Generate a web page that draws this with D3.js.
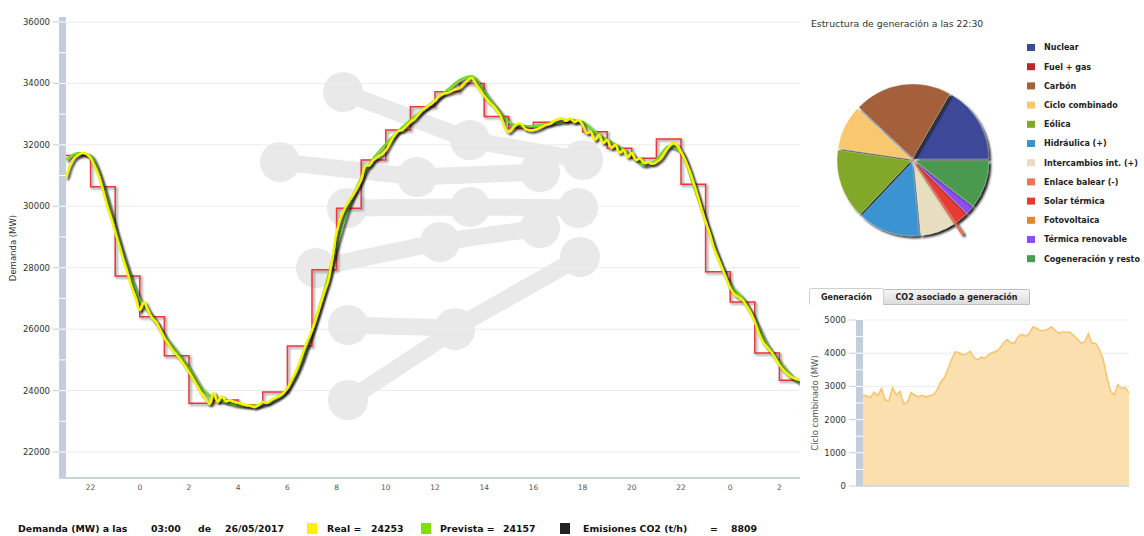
<!DOCTYPE html>
<html>
<head>
<meta charset="utf-8">
<script src="https://cdn.jsdelivr.net/npm/d3@7"></script>
<style>
html,body{margin:0;padding:0;background:#fff;}
svg{display:block;font-family:"DejaVu Sans",Verdana,sans-serif;}
</style>
</head>
<body>
<svg id="chart" width="1144" height="536"></svg>
<script>
// ---------- data ----------
// demand axis ticks (MW) and hour labels
const demandTicks = [22000, 24000, 26000, 28000, 30000, 32000, 34000, 36000];
const hourTicks = [22, 24, 26, 28, 30, 32, 34, 36, 38, 40, 42, 44, 46, 48, 50]; // hours since 00:00 of 24/05
const hourLabels = ["22", "0", "2", "4", "6", "8", "10", "12", "14", "16", "18", "20", "22", "0", "2"];

// real demand, every 10 minutes from 21:00 (24/05) to 03:00 (26/05)
const realDemand = [
  30920,31340,31570,31670,31740,31700,
  31570,31310,30990,30530,30040,29620,
  29160,28710,28250,27830,27370,27010,
  26620,26880,26620,26360,26230,25970,
  25710,25520,25320,25160,25000,24800,
  24600,24380,24150,23920,23760,23560,
  23920,23630,23820,23660,23690,23630,
  23600,23560,23530,23500,23460,23530,
  23630,23600,23690,23760,23820,23920,
  24080,24340,24600,24930,25320,25650,
  25970,26360,26790,27210,27600,28350,
  29160,29650,29940,30170,30370,30600,
  30860,31310,31340,31510,31600,31700,
  31830,32060,32290,32450,32480,32610,
  32740,32840,33000,33140,33230,33330,
  33430,33590,33660,33690,33750,33820,
  33850,33980,34110,34180,33980,33790,
  33590,33430,33300,33140,32940,32580,
  32420,32550,32680,32680,32520,32480,
  32480,32520,32580,32650,32680,32780,
  32840,32870,32780,32870,32740,32810,
  32650,32390,32420,32160,32320,32060,
  32160,31900,32000,31740,31830,31600,
  31740,31510,31570,31410,31440,31380,
  31440,31540,31740,31930,32060,32000,
  31770,31510,31180,30790,30370,29910,
  29490,29100,28640,28320,27990,27660,
  27340,27140,27050,26950,26750,26530,
  26230,25870,25580,25420,25260,25060,
  24830,24670,24540,24440,24380,24340,
  24253
];

// forecast demand, every 30 minutes over the same span
const forecastDemand = [
  31510,31740, 31640,30690, 29290,27990, 26950,26430, 25780,25260,
  24730,24080, 23760,23630, 23530,23500, 23560,23720, 24080,24830,
  25970,27270, 28740,30040, 30920,31570, 32030,32450, 32810,33140,
  33460,33790, 34110,34240, 33720,33200, 32740,32610, 32610,32680,
  32740,32810, 32740,32420, 32160,31930, 31670,31340, 31510,31960,
  31770,30690, 29490,28350, 27440,27010, 26300,25480, 24930,24470,
  24157
];

// scheduled demand, hourly blocks starting 21:00 (24/05)
const scheduledDemand = [
  31650,30640,27730,26400,25130,23590,23690,23530,23950,25450,
  27930,29940,31510,32480,33240,33730,34000,32920,32550,32740,
  32740,32430,31890,31560,32190,30720,27870,26880,25220,24340
];

// generation mix at 22:30 (MW)
const mixNames = ["Nuclear","Fuel + gas","Carbón","Ciclo combinado","Eólica","Hidráulica (+)",
  "Intercambios int. (+)","Enlace balear (-)","Solar térmica","Fotovoltaica","Térmica renovable","Cogeneración y resto"];
const mixValues = [5000, 0, 6420, 2920, 4580, 4080, 2330, 80, 900, 0, 580, 3170];
const mixColors = ["#3d4a98","#b5292b","#a3603b","#f9c86e","#82a82b","#3a93d1",
  "#e7debf","#ec7550","#e63b30","#e08a2f","#8a4ff0","#4a9a50"];

// combined-cycle generation, every 20 minutes over one day (MW)
const ccgtValues = [
  2740,2710,2670,2830,2720,2940,2590,2570,2960,2740,2850,2480,2520,2820,2740,2680,
  2730,2680,2720,2740,2880,3130,3260,3520,3820,4040,4020,3950,3980,4060,3880,3800,
  3880,3850,3960,4020,4050,4150,4310,4410,4320,4300,4500,4570,4510,4600,4790,4750,
  4680,4680,4720,4800,4690,4600,4640,4630,4630,4540,4430,4300,4340,4590,4300,4300,
  4100,3820,3290,2850,2750,3060,2940,2970,2800
];
const ccgtTicks = [0, 1000, 2000, 3000, 4000, 5000];

// status bar readings
const statusTime = "03:00", statusDate = "26/05/2017";
const statusReal = 24253, statusForecast = 24157, statusCO2 = 8809;

// ---------- drawing ----------
const svg = d3.select("#chart");
const defs = svg.append("defs");

function addShadow(id, dx, dy, sd, color, op) {
  const f = defs.append("filter").attr("id", id)
    .attr("filterUnits", "userSpaceOnUse")
    .attr("x", -1200).attr("y", -600).attr("width", 3600).attr("height", 1800);
  f.append("feDropShadow").attr("dx", dx).attr("dy", dy).attr("stdDeviation", sd)
    .attr("flood-color", color).attr("flood-opacity", op);
}
addShadow("shRed", 1.6, 1.6, 0.8, "#555", 0.75);
addShadow("shLine", 2, 2, 1, "#000", 0.85);
addShadow("shPie", 2.2, 2.2, 1.2, "#000", 0.9);

const plot = {left: 66, right: 800, top: 17, bottom: 478};
const x = d3.scaleLinear().domain([21, 51]).range([66, 804]);
const y = d3.scaleLinear().domain([22000, 36000]).range([452, 22]);

defs.append("clipPath").attr("id", "plotClip").append("rect")
  .attr("x", plot.left).attr("y", plot.top - 5)
  .attr("width", plot.right - plot.left).attr("height", plot.bottom - plot.top + 5);

// faint logo in the background of the plot
const logoRods = [
  [[343,92],[470,140],[583,160]],
  [[280,162],[417,177],[540,172]],
  [[347,208],[470,207],[578,208]],
  [[316,268],[440,242],[540,228]],
  [[348,325],[455,328],[580,257]],
  [[348,400],[455,330]]
];
const logo = svg.append("g").attr("fill", "#e9e9e9").attr("stroke", "#e9e9e9");
logoRods.forEach(r => {
  logo.append("path").attr("d", d3.line()(r)).attr("fill", "none")
    .attr("stroke-width", 17).attr("stroke-linecap", "round");
  r.forEach(p => logo.append("circle").attr("cx", p[0]).attr("cy", p[1]).attr("r", 20).attr("stroke", "none"));
});

// horizontal grid
svg.append("g").selectAll("line").data(demandTicks).join("line")
  .attr("x1", plot.left).attr("x2", plot.right)
  .attr("y1", d => y(d)).attr("y2", d => y(d))
  .attr("stroke", "#ebebeb").attr("stroke-width", 1);

// left axis band
svg.append("rect").attr("x", 59).attr("y", plot.top).attr("width", 7)
  .attr("height", plot.bottom - plot.top).attr("fill", "#c3cedc");
svg.append("g").selectAll("line").data(d3.range(22000, 36001, 1000)).join("line")
  .attr("x1", 59).attr("x2", 66).attr("y1", d => y(d)).attr("y2", d => y(d))
  .attr("stroke", "#fff").attr("stroke-width", 1);
svg.append("g").selectAll("line").data(demandTicks).join("line")
  .attr("x1", 53).attr("x2", 59).attr("y1", d => y(d)).attr("y2", d => y(d))
  .attr("stroke", "#c3cedc").attr("stroke-width", 1);
svg.append("g").selectAll("text").data(demandTicks).join("text")
  .attr("x", 50).attr("y", d => y(d)).attr("dy", "0.35em")
  .attr("text-anchor", "end").attr("font-size", 8.5).attr("fill", "#333")
  .text(d => d);
svg.append("text").attr("transform", "translate(16,248) rotate(-90)")
  .attr("text-anchor", "middle").attr("font-size", 8.5).attr("fill", "#333")
  .text("Demanda (MW)");

// bottom axis
svg.append("line").attr("x1", 59).attr("x2", plot.right)
  .attr("y1", plot.bottom).attr("y2", plot.bottom)
  .attr("stroke", "#c8d3df").attr("stroke-width", 2);
svg.append("g").selectAll("text").data(hourTicks).join("text")
  .attr("x", d => x(d)).attr("y", 490)
  .attr("text-anchor", "middle").attr("font-size", 7.5).attr("fill", "#555")
  .text((d, i) => hourLabels[i]);

// demand series
const lines = svg.append("g").attr("clip-path", "url(#plotClip)");
const schedSeries = scheduledDemand.map((v, i) => ({t: 21 + i, v}));
schedSeries.push({t: 21 + scheduledDemand.length, v: scheduledDemand[scheduledDemand.length - 1]});
const forecastSeries = forecastDemand.map((v, i) => ({t: 21 + i / 2, v}));
const realSeries = realDemand.map((v, i) => ({t: 21 + i / 6, v}));

lines.append("path").datum(schedSeries)
  .attr("d", d3.line().x(d => x(d.t)).y(d => y(d.v)).curve(d3.curveStepAfter))
  .attr("fill", "none").attr("stroke", "#e8373a").attr("stroke-width", 1.5)
  .attr("filter", "url(#shRed)");
lines.append("path").datum(forecastSeries)
  .attr("d", d3.line().x(d => x(d.t)).y(d => y(d.v)).curve(d3.curveMonotoneX))
  .attr("fill", "none").attr("stroke", "#6edc1e").attr("stroke-width", 2.2)
  .attr("filter", "url(#shLine)");
lines.append("path").datum(realSeries)
  .attr("d", d3.line().x(d => x(d.t)).y(d => y(d.v)).curve(d3.curveCatmullRom))
  .attr("fill", "none").attr("stroke", "#f7f200").attr("stroke-width", 2.4)
  .attr("filter", "url(#shLine)");

// ---------- generation mix pie ----------
svg.append("text").attr("x", 811).attr("y", 26.5).attr("font-size", 9.3).attr("fill", "#333")
  .text("Estructura de generación a las 22:30");

const pieC = [913, 160], pieR = 74;
const pie = d3.pie().value(d => d).sort(null)
  .startAngle(Math.PI / 2).endAngle(Math.PI / 2 - 2 * Math.PI);
const arcGen = d3.arc().innerRadius(0).outerRadius(pieR);
const arcLong = d3.arc().innerRadius(0).outerRadius(pieR + 15);
const isLink = s => mixNames[s.i].startsWith("Enlace");
const slices = pie(mixValues).map((s, i) => ({...s, i}));
const pieG = svg.append("g").attr("transform", `translate(${pieC[0]},${pieC[1]})`);
pieG.selectAll("path").data(slices.filter(s => s.value > 0)).join("path")
  .attr("d", s => isLink(s) ? arcLong(s) : arcGen(s))
  .attr("transform", s => {
    const mid = (s.startAngle + s.endAngle) / 2;
    const off = isLink(s) ? 0 : 2;
    return `translate(${off * Math.sin(mid)},${-off * Math.cos(mid)})`;
  })
  .attr("fill", s => mixColors[s.i])
  .attr("stroke", s => isLink(s) ? mixColors[s.i] : "rgba(255,255,255,0.5)")
  .attr("stroke-width", s => isLink(s) ? 1.2 : 0.5)
  .attr("filter", "url(#shPie)");

// legend
const leg = svg.append("g");
mixNames.forEach((n, i) => {
  const ly = 47.5 + i * 19.2;
  leg.append("rect").attr("x", 1027).attr("y", ly - 3.5).attr("width", 8).attr("height", 7)
    .attr("fill", mixColors[i]);
  leg.append("text").attr("x", 1044).attr("y", ly).attr("dy", "0.35em")
    .attr("font-size", 8).attr("font-weight", "bold").attr("fill", "#222").text(n);
});

// ---------- combined-cycle panel ----------
const grad = defs.append("linearGradient").attr("id", "tabGrad").attr("x1", 0).attr("y1", 0).attr("x2", 0).attr("y2", 1);
grad.append("stop").attr("offset", 0).attr("stop-color", "#f6f6f6");
grad.append("stop").attr("offset", 1).attr("stop-color", "#dcdcdc");
svg.append("path").attr("d", "M883.5,304.5 V291.5 Q883.5,289.5 885.5,289.5 H1027.5 Q1029.5,289.5 1029.5,291.5 V304.5 Z")
  .attr("fill", "url(#tabGrad)").attr("stroke", "#bdbdbd");
svg.append("path").attr("d", "M809.5,304.5 V290.5 Q809.5,288.5 811.5,288.5 H881.5 Q883.5,288.5 883.5,290.5 V304.5")
  .attr("fill", "#fff").attr("stroke", "#cfcfcf");
svg.append("text").attr("x", 846.5).attr("y", 299.5).attr("text-anchor", "middle")
  .attr("font-size", 8).attr("font-weight", "bold").attr("fill", "#222").text("Generación");
svg.append("text").attr("x", 956.5).attr("y", 299.5).attr("text-anchor", "middle")
  .attr("font-size", 8).attr("font-weight", "bold").attr("fill", "#222").text("CO2 asociado a generación");

const ax = d3.scaleLinear().domain([0, 24]).range([863, 1129]);
const ay = d3.scaleLinear().domain([0, 5000]).range([486, 320]);
const ccgtSeries = ccgtValues.map((v, i) => ({t: i / 3, v}));

svg.append("g").selectAll("line").data(ccgtTicks.slice(1)).join("line")
  .attr("x1", 863).attr("x2", 1129).attr("y1", d => ay(d)).attr("y2", d => ay(d))
  .attr("stroke", "#ececec");
svg.append("path").datum(ccgtSeries)
  .attr("d", d3.area().x(d => ax(d.t)).y0(ay(0)).y1(d => ay(d.v)))
  .attr("fill", "#fbdfae");
svg.append("path").datum(ccgtSeries)
  .attr("d", d3.line().x(d => ax(d.t)).y(d => ay(d.v)))
  .attr("fill", "none").attr("stroke", "#f7c46a").attr("stroke-width", 1.5);
svg.append("rect").attr("x", 856).attr("y", ay(5000)).attr("width", 7)
  .attr("height", ay(0) - ay(5000)).attr("fill", "#c3cedc");
svg.append("g").selectAll("line").data(d3.range(500, 5000, 500)).join("line")
  .attr("x1", 856).attr("x2", 863).attr("y1", d => ay(d)).attr("y2", d => ay(d))
  .attr("stroke", "#fff");
svg.append("line").attr("x1", 856).attr("x2", 1129).attr("y1", ay(0)).attr("y2", ay(0))
  .attr("stroke", "#c8d3df").attr("stroke-width", 1.5);
svg.append("g").selectAll("line").data(ccgtTicks).join("line")
  .attr("x1", 849).attr("x2", 856).attr("y1", d => ay(d)).attr("y2", d => ay(d))
  .attr("stroke", "#c3cedc");
svg.append("g").selectAll("text").data(ccgtTicks).join("text")
  .attr("x", 846).attr("y", d => ay(d)).attr("dy", "0.35em").attr("text-anchor", "end")
  .attr("font-size", 8.5).attr("fill", "#333").text(d => d);
svg.append("text").attr("transform", "translate(818,403) rotate(-90)")
  .attr("text-anchor", "middle").attr("font-size", 8.5).attr("fill", "#555")
  .text("Ciclo combinado (MW)");

// ---------- status bar ----------
const sb = svg.append("g").attr("font-size", 9.4).attr("font-weight", "bold").attr("fill", "#111");
const sy = 532;
sb.append("text").attr("x", 18).attr("y", sy).text("Demanda (MW) a las");
sb.append("text").attr("x", 151).attr("y", sy).text(statusTime);
sb.append("text").attr("x", 198).attr("y", sy).text("de");
sb.append("text").attr("x", 225).attr("y", sy).text(statusDate);
sb.append("rect").attr("x", 307).attr("y", 523).attr("width", 10).attr("height", 11).attr("fill", "#fff200");
sb.append("text").attr("x", 327).attr("y", sy).text("Real =");
sb.append("text").attr("x", 371).attr("y", sy).text(statusReal);
sb.append("rect").attr("x", 421).attr("y", 523).attr("width", 10).attr("height", 11).attr("fill", "#80e000");
sb.append("text").attr("x", 440).attr("y", sy).text("Prevista =");
sb.append("text").attr("x", 503).attr("y", sy).text(statusForecast);
sb.append("rect").attr("x", 560).attr("y", 523).attr("width", 10).attr("height", 11).attr("fill", "#222");
sb.append("text").attr("x", 583).attr("y", sy).text("Emisiones CO2 (t/h)");
sb.append("text").attr("x", 710).attr("y", sy).text("=");
sb.append("text").attr("x", 731).attr("y", sy).text(statusCO2);
</script>
</body>
</html>
